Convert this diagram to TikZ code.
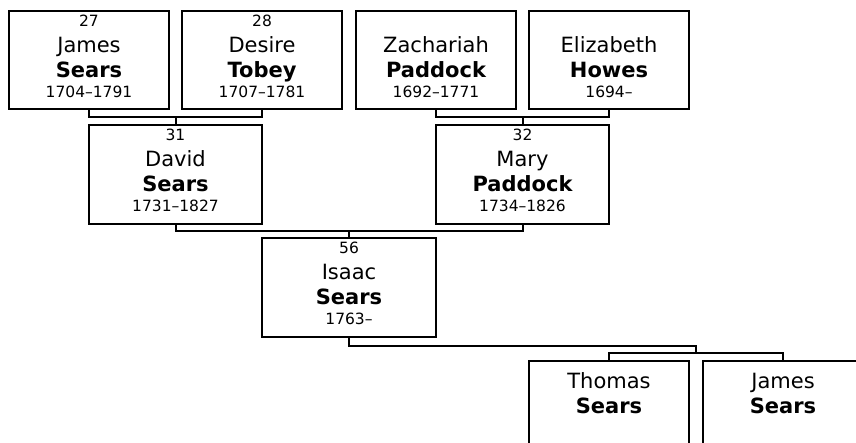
\documentclass[tikz,border=0pt]{standalone}
\usepackage{fontspec}
\setmainfont{DejaVu Sans}
\begin{document}
\begin{tikzpicture}[x=1pt,y=-1pt,
  pbox/.style={draw=black,line width=2pt,rectangle,inner sep=0pt,fill=white},
  numtxt/.style={font=\fontsize{15.5}{15.5}\selectfont,anchor=base,inner sep=0pt},
  nametxt/.style={font=\fontsize{21}{21}\selectfont,anchor=base,inner sep=0pt},
  surtxt/.style={font=\fontsize{21}{21}\bfseries\selectfont,anchor=base,inner sep=0pt},
  datetxt/.style={font=\fontsize{15.5}{15.5}\selectfont,anchor=base,inner sep=0pt},
  conn/.style={draw=black,line width=2pt,line join=miter}]
\clip (0,0) rectangle (856,443);
\fill[white] (0,0) rectangle (856,443);
% #1 name, #2 center x, #3 center y, #4 width, #5 height, #6 num, #7 first, #8 last, #9 dates
\newcommand\personbox[9]{%
  \node[pbox,minimum width=#4pt,minimum height=#5pt] (#1) at (#2,#3) {};
  \node[numtxt] (#1n) at ([yshift=-17pt]#1.north) {#6};
  \node[nametxt] (#1f) at ([yshift=-42.5pt]#1.north) {#7};
  \node[surtxt] (#1l) at ([yshift=-68pt]#1.north) {#8};
  \node[datetxt] (#1d) at ([yshift=-87.5pt]#1.north) {#9};
}
\personbox{b27}{89}{60}{160}{98}{27}{James}{Sears}{1704–1791}
\personbox{b28}{262}{60}{160}{98}{28}{Desire}{Tobey}{1707–1781}
\personbox{bZ}{436}{60}{160}{98}{}{Zachariah}{Paddock}{1692–1771}
\personbox{bE}{609}{60}{160}{98}{}{Elizabeth}{Howes}{1694–}
\personbox{b31}{175.5}{174.5}{173}{99}{31}{David}{Sears}{1731–1827}
\personbox{b32}{522.5}{174.5}{173}{99}{32}{Mary}{Paddock}{1734–1826}
\personbox{b56}{349}{287.5}{174}{99}{56}{Isaac}{Sears}{1763–}
% children
\node[pbox,minimum width=160pt,minimum height=99pt] (bT) at (609,410.5) {};
\node[nametxt] (bTf) at ([yshift=-28.3pt]bT.north) {Thomas};
\node[surtxt] (bTl) at ([yshift=-53.5pt]bT.north) {Sears};
\node[pbox,minimum width=160pt,minimum height=99pt] (bJ) at (783,410.5) {};
\node[nametxt] (bJf) at ([yshift=-28.3pt]bJ.north) {James};
\node[surtxt] (bJl) at ([yshift=-53.5pt]bJ.north) {Sears};
% connectors
\coordinate (c1) at (b31.north |- 0,117);
\draw[conn] (b27.south) |- (c1) -| (b28.south);
\draw[conn] (c1) -- (b31.north);
\coordinate (c2) at (b32.north |- 0,117);
\draw[conn] (bZ.south) |- (c2) -| (bE.south);
\draw[conn] (c2) -- (b32.north);
\coordinate (c3) at (b56.north |- 0,231);
\draw[conn] (b31.south) |- (c3) -| (b32.south);
\draw[conn] (c3) -- (b56.north);
\coordinate (k1) at (696,346);
\coordinate (k2) at (696,353);
\draw[conn] (b56.south) |- (k1) -- (k2);
\draw[conn] (bT.north) |- (k2) -| (bJ.north);
\end{tikzpicture}
\end{document}
